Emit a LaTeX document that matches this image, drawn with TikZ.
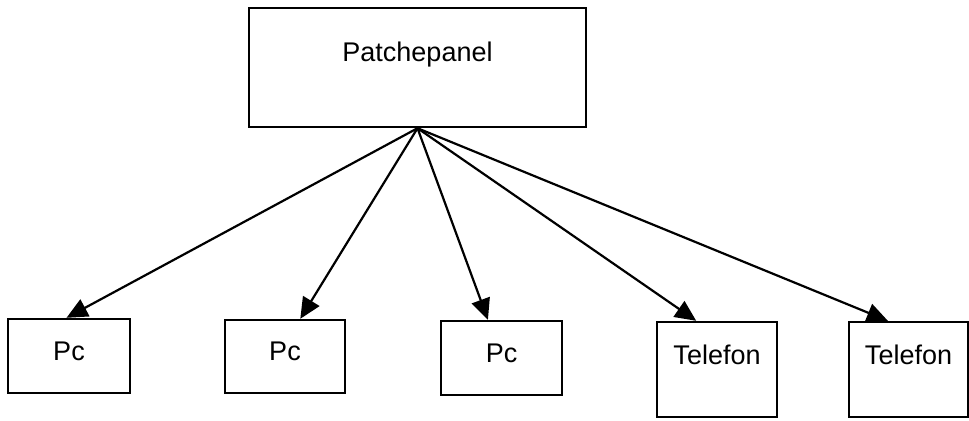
\documentclass[tikz,border=0pt]{standalone}
\usepackage{fontspec}
\setmainfont{Liberation Sans}
\usetikzlibrary{arrows.meta,calc}

\tikzset{
  box/.style={draw, rectangle, line width=1.2pt, inner sep=0pt,
    font=\fontsize{13.5}{16}\selectfont, text height=9.7pt},
  link/.style={line width=1.1pt, -{Triangle[length=10.5pt,width=9.5pt]}},
}

\begin{document}
\begin{tikzpicture}[x=0.5pt,y=-0.5pt]
	\useasboundingbox (0,0) rectangle (969,420);
	% Draw the boxes
	\node[box, minimum width=168.5pt, minimum height=59.5pt, text depth=15.4pt] (patch) at (417.5,67.5) {Patchepanel};
	\node[box, minimum width=61pt, minimum height=37pt, text depth=5.4pt]    (pc1)  at (69,356)    {Pc};
	\node[box, minimum width=60pt, minimum height=36.5pt, text depth=5.4pt]  (pc2)  at (285,356.5) {Pc};
	\node[box, minimum width=60.5pt, minimum height=37pt, text depth=5.4pt]  (pc3)  at (501.5,358) {Pc};
	\node[box, minimum width=60pt, minimum height=47.5pt, text depth=14.4pt] (tel1) at (717,369.5) {Telefon};
	\node[box, minimum width=59.5pt, minimum height=47.5pt, text depth=14.4pt] (tel2) at (908.5,369.5) {Telefon};
	% Connect the patch panel with the devices
	\draw[link] (patch.south) -- ($(pc1.north west)!.48!(pc1.north east)$);
	\draw[link] (patch.south) -- ($(pc2.north west)!.625!(pc2.north east)$);
	\draw[link] (patch.south) -- ($(pc3.north west)!.39!(pc3.north east)$);
	\draw[link] (patch.south) -- ($(tel1.north west)!.33!(tel1.north east)$);
	\draw[link] (patch.south) -- ($(tel2.north west)!.33!(tel2.north east)$);
\end{tikzpicture}
\end{document}
